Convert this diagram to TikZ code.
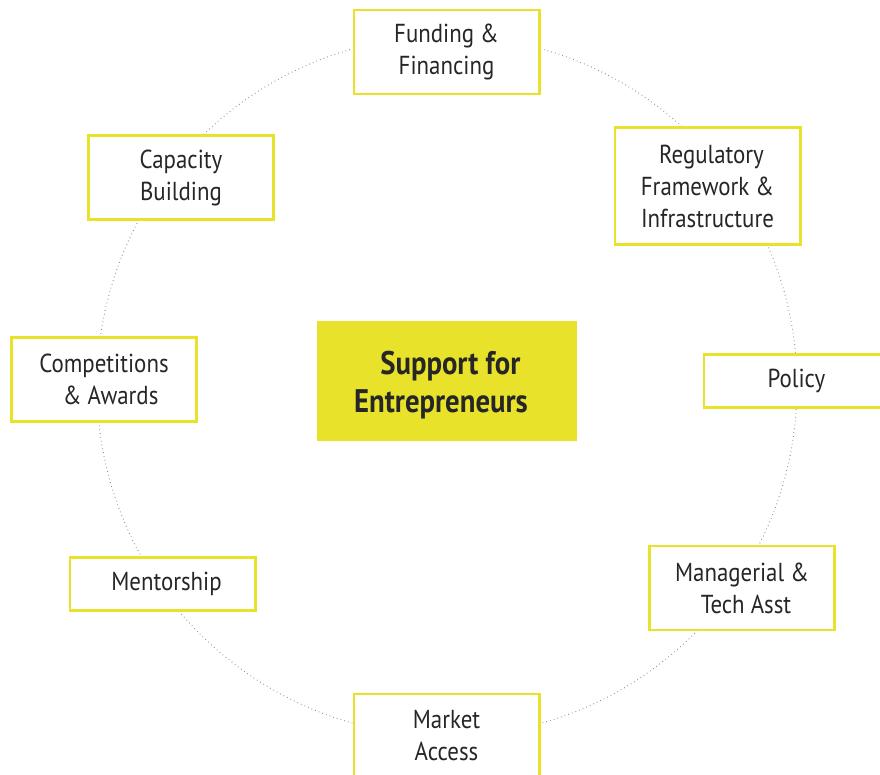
\documentclass[tikz,border=0pt]{standalone}
\usepackage{fontspec}
\setmainfont{PT Sans}[FakeStretch=0.88]
\definecolor{boxyellow}{RGB}{232,226,42}
\begin{document}
\begin{tikzpicture}[x=0.75pt,y=-0.75pt,box/.style={draw=boxyellow,line width=2pt,fill=white,minimum width=139pt,minimum height=63pt,align=center,font=\fontsize{19.5}{24}\selectfont,text=black!85},hub/.style={fill=boxyellow,minimum width=195pt,minimum height=90pt,align=center,font=\fontsize{24.5}{28.5}\selectfont\bfseries,text=black!85}]
\useasboundingbox (0,0) rectangle (880,774);
\draw[gray,line width=0.7pt,dash pattern=on 0.5pt off 2.4pt] (447,386) circle[radius=350];
\node[hub] (hub) at (447,381) {};
\node[align=center,font=\fontsize{24.5}{28.5}\selectfont\bfseries,text=black!85] (hubtext) at (441,385) {\hspace*{14pt}Support for\\Entrepreneurs};
\node[box] (fund) at (446.5,52) {Funding \&\\Financing};
\node[box,minimum height=88pt] (reg) at (707.5,186) {\hspace*{6pt}Regulatory\\Framework \&\\Infrastructure};
\node[box,minimum height=40pt,text width=125pt] (pol) at (796.5,381) {Policy};
\node[box] (mgmt) at (742,588) {Managerial \&\\\hspace*{6pt}Tech Asst};
\node[box] (mkt) at (446.5,736) {Market\\Access};
\node[box,minimum height=40pt] (ment) at (162.5,584) {\hspace*{6pt}Mentorship};
\node[box] (comp) at (104,379.5) {Competitions\\\hspace*{10pt}\& Awards};
\node[box] (cap) at (181,177.5) {Capacity\\Building};
\end{tikzpicture}
\end{document}
